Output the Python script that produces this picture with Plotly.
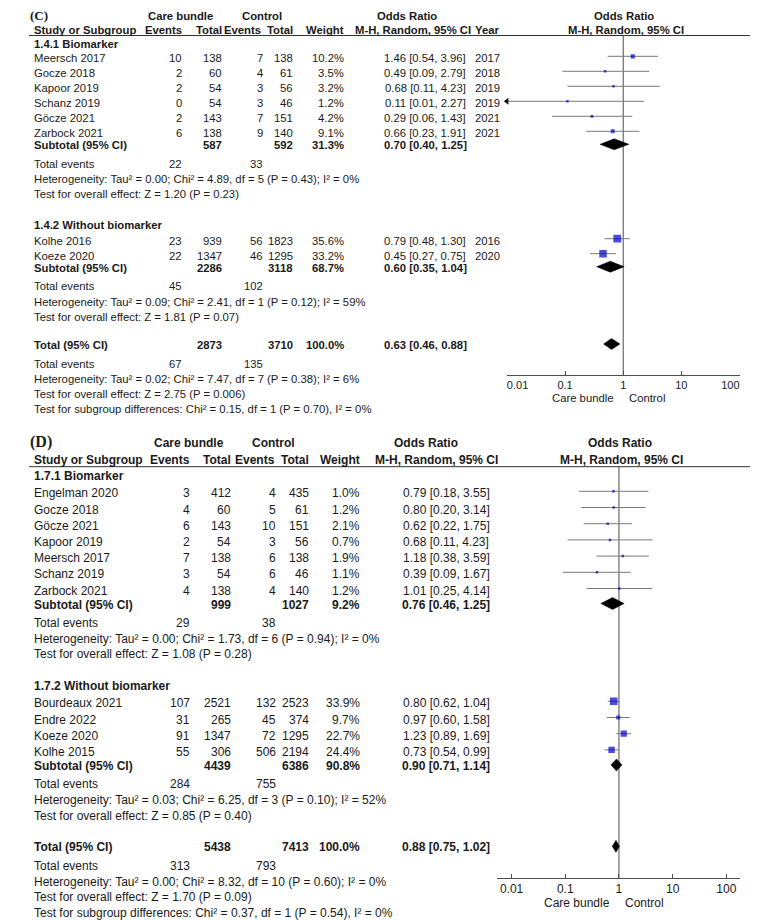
import math
import plotly.graph_objects as go

# the page body keeps its default 8px margin, so the figure starts at (8, 8)
PAGE_W, PAGE_H, OFF = 768, 920, 8
FIG_W, FIG_H = PAGE_W - OFF, PAGE_H - OFF
FONT = "Liberation Sans, Arial, sans-serif"
SERIF = "Liberation Serif, Times New Roman, serif"
TXT = "#1a1a1a"
BLUE = "#0000cc"
CI_GREY = "#7a7a7a"
LINE_GREY = "#4d4d4d"

# ---------------- (C) ----------------
C1_STUDY = ["Meersch 2017", "Gocze 2018", "Kapoor 2019", "Schanz 2019", "Göcze 2021", "Zarbock 2021"]
C1_EV_T = [10, 2, 2, 0, 2, 6]
C1_N_T = [138, 60, 54, 54, 143, 138]
C1_EV_C = [7, 4, 3, 3, 7, 9]
C1_N_C = [138, 61, 56, 46, 151, 140]
C1_WEIGHT = [10.2, 3.5, 3.2, 1.2, 4.2, 9.1]
C1_OR = [1.46, 0.49, 0.68, 0.11, 0.29, 0.66]
C1_LO = [0.54, 0.09, 0.11, 0.01, 0.06, 0.23]
C1_HI = [3.96, 2.79, 4.23, 2.27, 1.43, 1.91]
C1_YEAR = [2017, 2018, 2019, 2019, 2021, 2021]

C2_STUDY = ["Kolhe 2016", "Koeze 2020"]
C2_EV_T = [23, 22]
C2_N_T = [939, 1347]
C2_EV_C = [56, 46]
C2_N_C = [1823, 1295]
C2_WEIGHT = [35.6, 33.2]
C2_OR = [0.79, 0.45]
C2_LO = [0.48, 0.27]
C2_HI = [1.30, 0.75]
C2_YEAR = [2016, 2020]

C_GROUP = ["1.4.1 Biomarker", "1.4.2 Without biomarker"]
C_SUB_N_T = [587, 2286]
C_SUB_N_C = [592, 3118]
C_SUB_W = [31.3, 68.7]
C_SUB_OR = [0.70, 0.60]
C_SUB_LO = [0.40, 0.35]
C_SUB_HI = [1.25, 1.04]
C_SUB_EV_T = [22, 45]
C_SUB_EV_C = [33, 102]
C_SUB_HET = ["Heterogeneity: Tau² = 0.00; Chi² = 4.89, df = 5 (P = 0.43); I² = 0%",
             "Heterogeneity: Tau² = 0.09; Chi² = 2.41, df = 1 (P = 0.12); I² = 59%"]
C_SUB_TEST = ["Test for overall effect: Z = 1.20 (P = 0.23)",
              "Test for overall effect: Z = 1.81 (P = 0.07)"]

C_TOT = dict(n_t=2873, n_c=3710, w=100.0, or_=0.63, lo=0.46, hi=0.88, ev_t=67, ev_c=135,
             het="Heterogeneity: Tau² = 0.02; Chi² = 7.47, df = 7 (P = 0.38); I² = 6%",
             test="Test for overall effect: Z = 2.75 (P = 0.006)",
             sub="Test for subgroup differences: Chi² = 0.15, df = 1 (P = 0.70), I² = 0%")

# ---------------- (D) ----------------
D1_STUDY = ["Engelman 2020", "Gocze 2018", "Göcze 2021", "Kapoor 2019", "Meersch 2017", "Schanz 2019", "Zarbock 2021"]
D1_EV_T = [3, 4, 6, 2, 7, 3, 4]
D1_N_T = [412, 60, 143, 54, 138, 54, 138]
D1_EV_C = [4, 5, 10, 3, 6, 6, 4]
D1_N_C = [435, 61, 151, 56, 138, 46, 140]
D1_WEIGHT = [1.0, 1.2, 2.1, 0.7, 1.9, 1.1, 1.2]
D1_OR = [0.79, 0.80, 0.62, 0.68, 1.18, 0.39, 1.01]
D1_LO = [0.18, 0.20, 0.22, 0.11, 0.38, 0.09, 0.25]
D1_HI = [3.55, 3.14, 1.75, 4.23, 3.59, 1.67, 4.14]

D2_STUDY = ["Bourdeaux 2021", "Endre 2022", "Koeze 2020", "Kolhe 2015"]
D2_EV_T = [107, 31, 91, 55]
D2_N_T = [2521, 265, 1347, 306]
D2_EV_C = [132, 45, 72, 506]
D2_N_C = [2523, 374, 1295, 2194]
D2_WEIGHT = [33.9, 9.7, 22.7, 24.4]
D2_OR = [0.80, 0.97, 1.23, 0.73]
D2_LO = [0.62, 0.60, 0.89, 0.54]
D2_HI = [1.04, 1.58, 1.69, 0.99]

D_GROUP = ["1.7.1 Biomarker", "1.7.2 Without biomarker"]
D_SUB_N_T = [999, 4439]
D_SUB_N_C = [1027, 6386]
D_SUB_W = [9.2, 90.8]
D_SUB_OR = [0.76, 0.90]
D_SUB_LO = [0.46, 0.71]
D_SUB_HI = [1.25, 1.14]
D_SUB_EV_T = [29, 284]
D_SUB_EV_C = [38, 755]
D_SUB_HET = ["Heterogeneity: Tau² = 0.00; Chi² = 1.73, df = 6 (P = 0.94); I² = 0%",
             "Heterogeneity: Tau² = 0.03; Chi² = 6.25, df = 3 (P = 0.10); I² = 52%"]
D_SUB_TEST = ["Test for overall effect: Z = 1.08 (P = 0.28)",
              "Test for overall effect: Z = 0.85 (P = 0.40)"]

D_TOT = dict(n_t=5438, n_c=7413, w=100.0, or_=0.88, lo=0.75, hi=1.02, ev_t=313, ev_c=793,
             het="Heterogeneity: Tau² = 0.00; Chi² = 8.32, df = 10 (P = 0.60); I² = 0%",
             test="Test for overall effect: Z = 1.70 (P = 0.09)",
             sub="Test for subgroup differences: Chi² = 0.37, df = 1 (P = 0.54), I² = 0%")

TICKS = [0.01, 0.1, 1, 10, 100]
TICK_LABELS = ["0.01", "0.1", "1", "10", "100"]


def study_table(study, ev_t, n_t, ev_c, n_c, w, or_, lo, hi, year=None):
    return dict(study=study, ev_t=ev_t, n_t=n_t, ev_c=ev_c, n_c=n_c, w=w,
                or_=or_, lo=lo, hi=hi, year=year)


C_STUDIES = [study_table(C1_STUDY, C1_EV_T, C1_N_T, C1_EV_C, C1_N_C, C1_WEIGHT, C1_OR, C1_LO, C1_HI, C1_YEAR),
             study_table(C2_STUDY, C2_EV_T, C2_N_T, C2_EV_C, C2_N_C, C2_WEIGHT, C2_OR, C2_LO, C2_HI, C2_YEAR)]
D_STUDIES = [study_table(D1_STUDY, D1_EV_T, D1_N_T, D1_EV_C, D1_N_C, D1_WEIGHT, D1_OR, D1_LO, D1_HI),
             study_table(D2_STUDY, D2_EV_T, D2_N_T, D2_EV_C, D2_N_C, D2_WEIGHT, D2_OR, D2_LO, D2_HI)]

# layout of each panel, in page pixels from the top-left corner
C_LAY = dict(tag="(C)", font=11.3, tick_font=11, tag_y=15.5, tag_size=13, hdr1=15.5, hdr2=29.5,
             rule=35.5, grp_label=[44, 225], grp_first=[58.3, 240.7], pitch=15,
             sub_gap=12, ev_gap=18.5, line_pitch=15.3, total=345,
             axis_y=374.5, dom=(511.7, 757), xrange=(-2, 2), dia_h=5.5, foot_y=398,
             cols=dict(label=11.7, ev_t=170, n_t=212, ev_c=256, ev_c_h=254, n_c=287, w=341.5,
                       or_=425.5, year=491, care=167.5, ctrl=254, or_h1=406, or_h2=413,
                       f_h1=635.7, f_h2=637))
D_LAY = dict(tag="(D)", font=12, tick_font=12, tag_y=442, tag_size=16, hdr1=443, hdr2=460,
             rule=466.7, grp_label=[476, 686], grp_first=[493.3, 703.3], pitch=16.2,
             sub_gap=14, ev_gap=18.5, line_pitch=15.7, total=847.3,
             axis_y=878, dom=(501.7, 757), xrange=(-2.265, 2.247), dia_h=6, foot_y=903.3,
             cols=dict(label=11.7, ev_t=178.3, n_t=222, ev_c=269.3, ev_c_h=268, n_c=304, w=358.3,
                       or_=447.7, year=None, care=176.7, ctrl=266, or_h1=426, or_h2=437.5,
                       f_h1=630.7, f_h2=632.3))

MARK_DY = -2
DIA_DY = -1

fig = go.Figure()


def px(x):
    return (x - OFF) / FIG_W


def py(y):
    return 1 - (y - OFF) / FIG_H


def text(x, y, s, size, anchor="left", bold=False, family=FONT):
    fig.add_annotation(
        x=px(x), y=py(y), xref="paper", yref="paper",
        text=f"<b>{s}</b>" if bold else s, showarrow=False,
        xanchor=anchor, yanchor="middle", borderpad=0,
        font=dict(family=family, size=size, color=TXT),
    )


def fmt_or(o, l, h):
    return f"{o:.2f} [{l:.2f}, {h:.2f}]"


def draw_panel(lay, studies, groups, sub_n_t, sub_n_c, sub_w, sub_or, sub_lo, sub_hi,
               sub_ev_t, sub_ev_c, sub_het, sub_test, tot, xa, ya):
    c = lay["cols"]
    fs = lay["font"]

    def t(x, y, s, anchor="left", bold=False):
        text(x, y, s, fs, anchor, bold)

    # header
    text(OFF, lay["tag_y"], lay["tag"], lay["tag_size"], "left", True, family=SERIF)
    t(c["care"], lay["hdr1"], "Care bundle", "center", True)
    t(c["ctrl"], lay["hdr1"], "Control", "center", True)
    t(c["or_h1"], lay["hdr1"], "Odds Ratio", "center", True)
    t(c["f_h1"], lay["hdr1"], "Odds Ratio", "center", True)
    t(c["label"], lay["hdr2"], "Study or Subgroup", "left", True)
    t(c["ev_t"], lay["hdr2"], "Events", "right", True)
    t(c["n_t"], lay["hdr2"], "Total", "right", True)
    t(c["ev_c_h"], lay["hdr2"], "Events", "right", True)
    t(c["n_c"], lay["hdr2"], "Total", "right", True)
    t(c["w"], lay["hdr2"], "Weight", "right", True)
    t(c["or_h2"], lay["hdr2"], "M-H, Random, 95% CI", "center", True)
    t(c["f_h2"], lay["hdr2"], "M-H, Random, 95% CI", "center", True)
    if c["year"] is not None:
        t(c["year"], lay["hdr2"], "Year", "center", True)
    fig.add_shape(type="line", xref="paper", yref="paper", x0=0, x1=1,
                  y0=py(lay["rule"]), y1=py(lay["rule"]),
                  line=dict(color="#333333", width=1))

    xmin = 10 ** lay["xrange"][0]
    ci_x, ci_y, sq_x, sq_y, sq_s, arr_y = [], [], [], [], [], []
    dia_x, dia_y = [], []

    def diamond(o, l, h, y):
        hh = lay["dia_h"]
        dia_x.extend([l, o, h, o, l, None])
        dia_y.extend([y, y - hh, y, y + hh, y, None])

    for g, st in enumerate(studies):
        t(c["label"], lay["grp_label"][g], groups[g], "left", True)
        y = lay["grp_first"][g]
        for i, name in enumerate(st["study"]):
            y = lay["grp_first"][g] + lay["pitch"] * i
            t(c["label"], y, name)
            t(c["ev_t"], y, str(st["ev_t"][i]), "right")
            t(c["n_t"], y, str(st["n_t"][i]), "right")
            t(c["ev_c"], y, str(st["ev_c"][i]), "right")
            t(c["n_c"], y, str(st["n_c"][i]), "right")
            t(c["w"], y, f"{st['w'][i]:.1f}%", "right")
            t(c["or_"], y, fmt_or(st["or_"][i], st["lo"][i], st["hi"][i]), "center")
            if st["year"] is not None:
                t(c["year"], y, str(st["year"][i]), "center")
            ym = y + MARK_DY
            lo = st["lo"][i]
            if lo <= xmin:
                lo = xmin
                arr_y.append(ym)
            ci_x.extend([lo, st["hi"][i], None])
            ci_y.extend([ym, ym, None])
            sq_x.append(st["or_"][i])
            sq_y.append(ym)
            sq_s.append(max(2.5, 1.3 * math.sqrt(st["w"][i])))
        ys = y + lay["sub_gap"]
        t(c["label"], ys, "Subtotal (95% CI)", "left", True)
        t(c["n_t"], ys, str(sub_n_t[g]), "right", True)
        t(c["n_c"], ys, str(sub_n_c[g]), "right", True)
        t(c["w"], ys, f"{sub_w[g]:.1f}%", "right", True)
        t(c["or_"], ys, fmt_or(sub_or[g], sub_lo[g], sub_hi[g]), "center", True)
        diamond(sub_or[g], sub_lo[g], sub_hi[g], ys + DIA_DY)
        ye = ys + lay["ev_gap"]
        t(c["label"], ye, "Total events")
        t(c["ev_t"], ye, str(sub_ev_t[g]), "right")
        t(c["ev_c"], ye, str(sub_ev_c[g]), "right")
        t(c["label"], ye + lay["line_pitch"], sub_het[g])
        t(c["label"], ye + 2 * lay["line_pitch"], sub_test[g])

    yt = lay["total"]
    t(c["label"], yt, "Total (95% CI)", "left", True)
    t(c["n_t"], yt, str(tot["n_t"]), "right", True)
    t(c["n_c"], yt, str(tot["n_c"]), "right", True)
    t(c["w"], yt, f"{tot['w']:.1f}%", "right", True)
    t(c["or_"], yt, fmt_or(tot["or_"], tot["lo"], tot["hi"]), "center", True)
    diamond(tot["or_"], tot["lo"], tot["hi"], yt + DIA_DY)
    ye = yt + lay["ev_gap"]
    t(c["label"], ye, "Total events")
    t(c["ev_t"], ye, str(tot["ev_t"]), "right")
    t(c["ev_c"], ye, str(tot["ev_c"]), "right")
    t(c["label"], ye + lay["line_pitch"], tot["het"])
    t(c["label"], ye + 2 * lay["line_pitch"], tot["test"])
    t(c["label"], min(ye + 3 * lay["line_pitch"], PAGE_H - 7.5), tot["sub"])

    # line of no effect
    fig.add_trace(go.Scatter(x=[1, 1], y=[lay["rule"], lay["axis_y"]], mode="lines",
                             line=dict(color=LINE_GREY, width=1), xaxis=xa, yaxis=ya,
                             hoverinfo="skip"))
    fig.add_trace(go.Scatter(x=ci_x, y=ci_y, mode="lines", line=dict(color=CI_GREY, width=1),
                             xaxis=xa, yaxis=ya, hoverinfo="skip", cliponaxis=False))
    fig.add_trace(go.Scatter(x=sq_x, y=sq_y, mode="markers", xaxis=xa, yaxis=ya,
                             marker=dict(symbol="square", size=sq_s, color=BLUE, line=dict(width=0))))
    if arr_y:
        fig.add_trace(go.Scatter(x=[xmin] * len(arr_y), y=arr_y, mode="markers", xaxis=xa, yaxis=ya,
                                 cliponaxis=False,
                                 marker=dict(symbol="triangle-left", size=6, color="#111111")))
    fig.add_trace(go.Scatter(x=dia_x, y=dia_y, mode="lines", fill="toself", fillcolor="#000000",
                             line=dict(color="#000000", width=0.5), xaxis=xa, yaxis=ya,
                             hoverinfo="skip"))

    # favours labels under the axis, either side of the line of no effect
    for label, anchor, shift in (("Care bundle", "right", -8), ("Control", "left", 5)):
        fig.add_annotation(x=0, y=py(lay["foot_y"]), xref=xa, yref="paper", text=label,
                           showarrow=False, xanchor=anchor, yanchor="middle", xshift=shift,
                           borderpad=0, font=dict(family=FONT, size=fs, color=TXT))


draw_panel(C_LAY, C_STUDIES, C_GROUP, C_SUB_N_T, C_SUB_N_C, C_SUB_W, C_SUB_OR, C_SUB_LO, C_SUB_HI,
           C_SUB_EV_T, C_SUB_EV_C, C_SUB_HET, C_SUB_TEST, C_TOT, "x", "y")
draw_panel(D_LAY, D_STUDIES, D_GROUP, D_SUB_N_T, D_SUB_N_C, D_SUB_W, D_SUB_OR, D_SUB_LO, D_SUB_HI,
           D_SUB_EV_T, D_SUB_EV_C, D_SUB_HET, D_SUB_TEST, D_TOT, "x2", "y2")


def xaxis(lay, anchor, ticktext):
    return dict(type="log", range=list(lay["xrange"]), anchor=anchor,
                domain=[px(lay["dom"][0]), px(lay["dom"][1])],
                tickvals=TICKS, ticktext=ticktext, showline=True, linecolor=LINE_GREY, linewidth=1,
                ticks="inside", ticklen=4, tickcolor=LINE_GREY, showgrid=False, zeroline=False,
                ticklabeloverflow="allow",
                tickfont=dict(family=FONT, size=lay["tick_font"], color=TXT), fixedrange=True)


def yaxis(lay):
    # y data units are page pixels: the axis spans from the page top to the axis line
    return dict(domain=[py(lay["axis_y"]), 1], range=[lay["axis_y"], OFF],
                visible=False, fixedrange=True)


# panel C keeps its end labels inside the axis, as in the original
c_ticktext = (["\u00a0" * 7 + TICK_LABELS[0]] + TICK_LABELS[1:4]
              + [TICK_LABELS[4] + "\u00a0" * 6])
fig.update_layout(
    width=FIG_W, height=FIG_H, autosize=False,
    margin=dict(l=0, r=0, t=0, b=0),
    paper_bgcolor="white", plot_bgcolor="rgba(0,0,0,0)",
    showlegend=False,
    xaxis=xaxis(C_LAY, "y", c_ticktext),
    yaxis=yaxis(C_LAY),
    xaxis2=xaxis(D_LAY, "y2", TICK_LABELS),
    yaxis2=yaxis(D_LAY),
)

fig.write_html("out.html")
